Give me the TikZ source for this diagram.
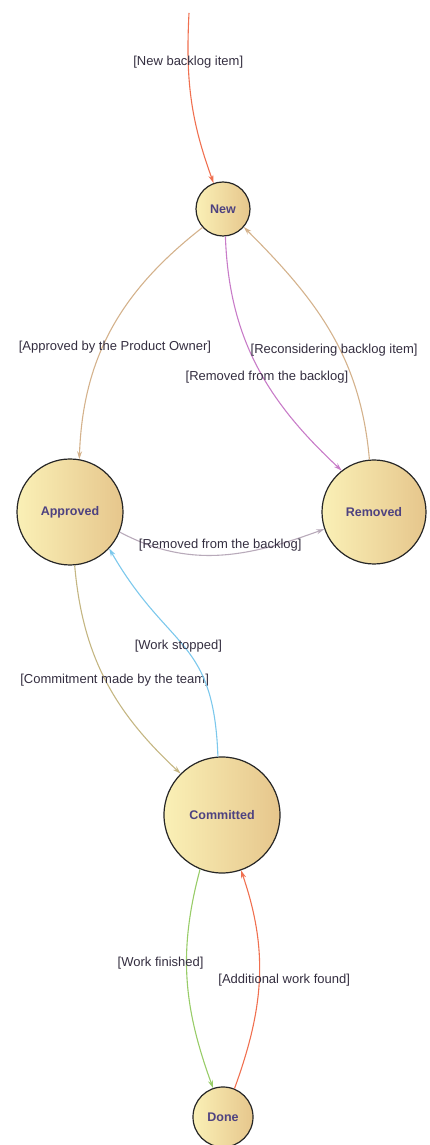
\documentclass[tikz,border=0pt]{standalone}
\usepackage{fontspec}
\setmainfont{Liberation Sans}
\usetikzlibrary{arrows.meta}

\definecolor{textgray}{RGB}{52,46,64}
\definecolor{statetext}{RGB}{78,66,128}
\definecolor{stlight}{RGB}{250,240,182}
\definecolor{stdark}{RGB}{230,198,140}
\definecolor{redline}{RGB}{240,112,80}
\definecolor{tanline}{RGB}{212,178,140}
\definecolor{orchidline}{RGB}{200,124,200}
\definecolor{grayline}{RGB}{184,170,186}
\definecolor{khakiline}{RGB}{196,182,130}
\definecolor{blueline}{RGB}{124,200,236}
\definecolor{greenline}{RGB}{152,204,104}

\begin{document}
\begin{tikzpicture}[x=1pt,y=1pt,>={Stealth[length=8pt,width=5pt]}]
                \tikzstyle{state}=[circle,draw=black!85,line width=1.2,left color=stlight,right color=stdark,text=statetext,font=\fontsize{12.5}{14}\selectfont\bfseries,inner sep=0]
                \tikzstyle{note}=[text=textgray,font=\fontsize{13}{15}\selectfont,inner sep=1]
                \tikzstyle{trans}=[->,line width=1.1]
                {
                    \useasboundingbox (0,0) rectangle (430,1145);

                    \node[state,minimum size=54] (new) at (223, 936) {New};
                    \node[state,minimum size=106] (approved) at (70, 633) {Approved};
                    \node[state,minimum size=104] (removed) at (374, 633) {Removed};
                    \node[state,minimum size=116] (committed) at (222, 330) {Committed};
                    \node[state,minimum size=60] (done) at (223, 28) {Done};
                    \coordinate (entry) at (189, 1132);

                    \draw[trans,redline] (entry) to[out=-93,in=110] node[note,pos=0.27] {[New backlog item]} (new.110);
                    \draw[trans,tanline] (new.222) to[out=-142,in=88] node[note,pos=0.58,xshift=12] {[Approved by the Product Owner]} (approved.80);
                    \draw[trans,orchidline] (new.-85) to[out=-88,in=137] node[note,pos=0.55,xshift=4] {[Removed from the backlog]} (removed.128);
                    \draw[trans,tanline] (removed.95) to[out=95,in=-45] node[note,pos=0.42,xshift=-6] {[Reconsidering backlog item]} (new.-41);
                    \draw[trans,grayline] (approved.-22) to[out=-28,in=200] node[note,pos=0.5,yshift=10] {[Removed from the backlog]} (removed.199);
                    \draw[trans,khakiline] (approved.-85) to[out=-85,in=137] node[note,pos=0.5,xshift=9] {[Commitment made by the team]} (committed.135);
                    \draw[trans,blueline] (committed.94) to[out=92,in=-60,looseness=1.3] node[note,pos=0.5,xshift=-6] {[Work stopped]} (approved.-43);
                    \draw[trans,greenline] (committed.-112) to[out=-105,in=110] node[note,pos=0.42,xshift=-26] {[Work finished]} (done.109);
                    \draw[trans,redline] (done.68) to[out=70,in=-71] node[note,pos=0.5,xshift=25] {[Additional work found]} (committed.-71);
                }
\end{tikzpicture}
\end{document}
